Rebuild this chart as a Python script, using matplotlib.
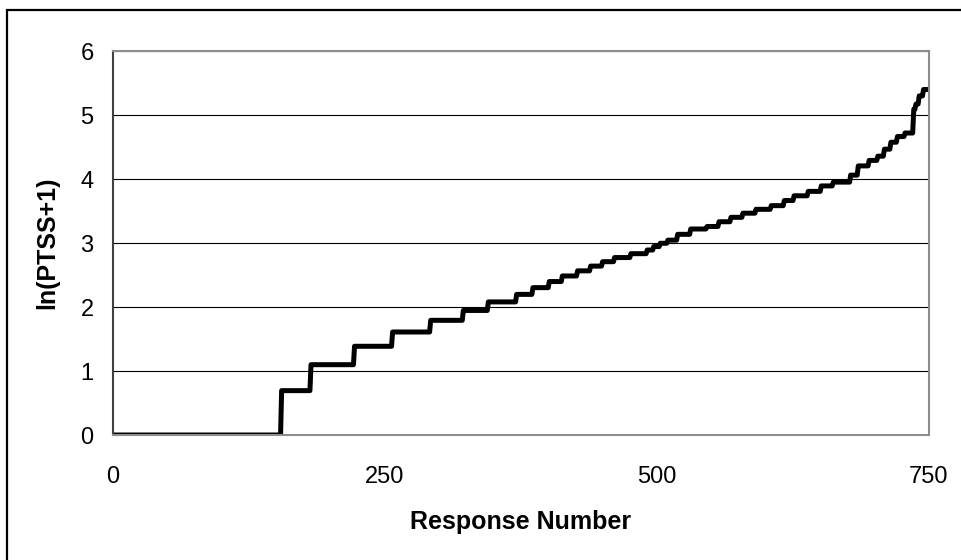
import numpy as np
import matplotlib
matplotlib.use("Agg")
import matplotlib.pyplot as plt
from matplotlib.patches import Rectangle

# PTSS score levels and the response number at which each level starts (sorted responses)
ptss_levels = [0, 1, 2, 3, 4, 5, 6, 7, 8, 9, 10, 11, 12, 13, 14, 15, 16, 17, 18, 19,
               20, 22, 24, 25, 27, 29, 31, 33, 35, 38, 41, 44, 48, 51, 57, 66, 72,
               77, 86, 96, 105, 111, 161, 175, 199, 220]
level_start = [0, 154, 181, 221, 256, 291, 321, 344, 370, 385, 400, 412, 426, 438, 449,
               460, 475, 490, 496, 502, 509, 518, 530, 545, 556, 567, 578, 590, 604,
               616, 625, 638, 650, 661, 677, 684, 694, 702, 708, 714, 720, 727, 735,
               737, 740, 744]
n_responses = 750

x_ticks = [0, 250, 500, 750]
y_ticks = [0, 1, 2, 3, 4, 5, 6]

counts = np.diff(level_start + [n_responses])
scores = np.repeat(ptss_levels, counts)
ln_scores = np.log(scores + 1)
resp = np.arange(1, n_responses + 1)

plt.rcParams['font.family'] = ['Liberation Sans', 'DejaVu Sans']

fig = plt.figure(figsize=(9.62, 5.6), dpi=100)
ax = fig.add_axes([113 / 962, 1 - 435 / 560, 816 / 962, 384 / 560])

# outer chart frame (only top and left edges fall inside the picture)
fig.add_artist(Rectangle((6.5 / 962, -0.1), 1.2, 1.1 - 9.5 / 560,
                         transform=fig.transFigure, fill=False,
                         edgecolor='black', linewidth=1.6))

ax.plot(resp, ln_scores, color='black', linewidth=3.6, solid_joinstyle='round',
        solid_capstyle='round')

ax.set_xlim(0, 750)
ax.set_ylim(0, 6)
ax.set_xticks(x_ticks)
ax.set_yticks(y_ticks)
ax.yaxis.grid(True, color='black', linewidth=0.8)
ax.set_axisbelow(True)
ax.tick_params(axis='both', length=0, labelsize=17)
ax.tick_params(axis='x', pad=22)
ax.tick_params(axis='y', pad=14)

ax.spines['left'].set_color('#404040')
ax.spines['left'].set_linewidth(1.5)
for s in ['top', 'right', 'bottom']:
    ax.spines[s].set_color('#8c8c8c')
    ax.spines[s].set_linewidth(1.5)

ax.set_xlabel('Response Number', fontsize=18, fontweight='bold')
ax.set_ylabel('ln(PTSS+1)', fontsize=18, fontweight='bold')
ax.xaxis.set_label_coords(0.5, -0.195)
ax.yaxis.set_label_coords(-0.066, 0.5)

fig.savefig('out.png', dpi=100)
